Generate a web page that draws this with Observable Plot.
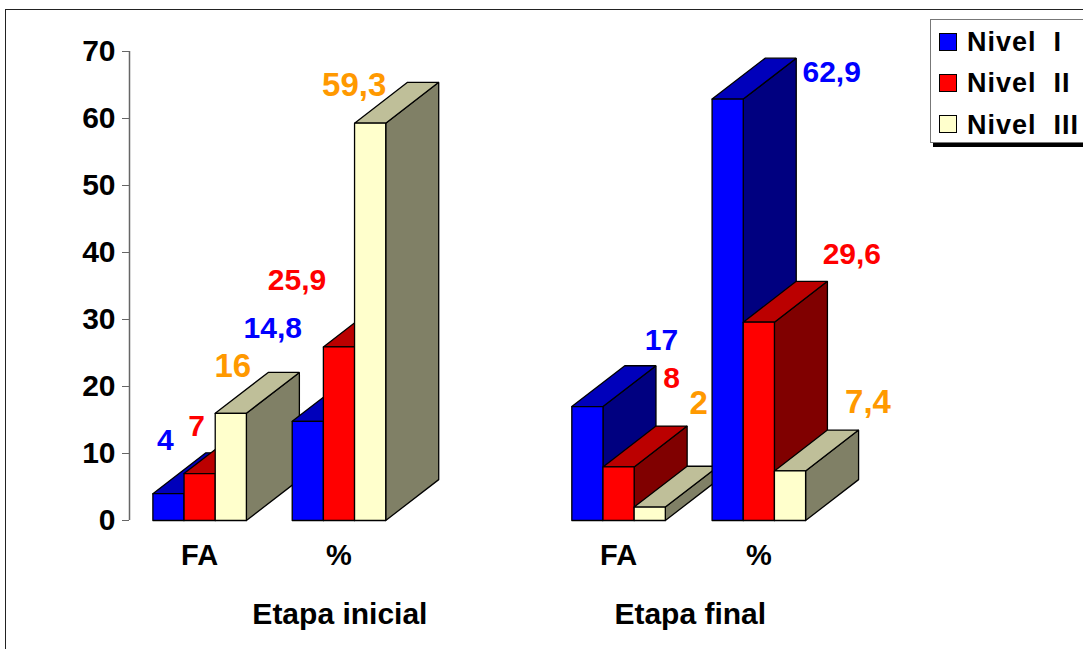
<!DOCTYPE html>
<html>
<head>
<meta charset="utf-8">
<script src="https://cdn.jsdelivr.net/npm/d3@7"></script>
<script src="https://cdn.jsdelivr.net/npm/@observablehq/plot@0.6"></script>
<style>
  html, body { margin: 0; padding: 0; background: #fff; overflow: hidden; }
  #page { position: relative; width: 1083px; height: 649px; overflow: hidden; font-family: "Liberation Sans", Arial, sans-serif; font-weight: 700; }
  #page svg { position: absolute; left: 0; top: 0; }
  #frame { position: absolute; left: 5px; top: 9px; width: 1200px; height: 800px; border: 1px solid #222; }
  #shadow { position: absolute; left: 933px; top: 143px; width: 200px; height: 4px; background: #000; }
  #legend { position: absolute; left: 930px; top: 19px; width: 200px; height: 122px; background: #fff; border: 1px solid #777; }
  .entry { position: absolute; left: 36px; font-size: 27px; line-height: 30px; letter-spacing: 1px; white-space: pre; color: #000; }
  .swatch { position: absolute; left: 8px; width: 16px; height: 16px; border: 1px solid #000; }
</style>
</head>
<body>
<div id="page">
  <div id="frame"></div>
  <div id="chart"></div>
  <div id="shadow"></div>
  <div id="legend"></div>
</div>
<script>
// Achievement levels over two stages, as counts (FA) and percentages
const stages = ["Etapa inicial", "Etapa final"];
const measures = ["FA", "%", "FA", "%"];
const levels = ["Nivel  I", "Nivel  II", "Nivel  III"];
const nivelI = [4, 14.8, 17, 62.9];
const nivelII = [7, 25.9, 8, 29.6];
const nivelIII = [16, 59.3, 2, 7.4];
const seriesValues = [nivelI, nivelII, nivelIII];

// Shades of each level: front, top and side faces, plus its label colour
const frontColors = ["#0000ff", "#ff0000", "#ffffcc"];
const topColors = ["#0000bb", "#bb0000", "#bfbf99"];
const sideColors = ["#000080", "#800000", "#808066"];
const labelColors = ["#0000ff", "#ff0000", "#ff9900"];

// Cluster placement along x, in bar widths, and the extruded depth of the bars
const clusterStart = [0, 4.47, 13.44, 17.94];
const stageCenter = [6, 17.24];
const depthX = 1.7;
const depthY = 6.1;

// Hand placed value labels, as pixel offsets from the top centre of each bar
const labelDx = [[-3, -35, 74, 104], [-3, -42, 53, 93], [2, -16, 49, 78]];
const labelDy = [[-53, -93, -66, -27], [-47, -67, -89, -68], [-47, -38, -104, -68]];
const labelSize = [30, 30, 33];

const bars = [];
clusterStart.forEach((start, c) => {
  seriesValues.forEach((values, s) => {
    bars.push({c, s, x0: start + s, x1: start + s + 1, v: values[c]});
  });
});

// Faces are painted back to front, left to right, so nearer bars hide farther ones
const faces = [];
bars.forEach((b, i) => {
  const {x0, x1, v, s} = b;
  const add = (name, fill, pts) => pts.concat([pts[0]]).forEach(([x, y]) => faces.push({id: `${i}-${name}`, fill, x, y}));
  add("side", sideColors[s], [[x1, 0], [x1 + depthX, depthY], [x1 + depthX, v + depthY], [x1, v]]);
  add("top", topColors[s], [[x0, v], [x0 + depthX, v + depthY], [x1 + depthX, v + depthY], [x1, v]]);
  add("front", frontColors[s], [[x0, 0], [x0, v], [x1, v], [x1, 0]]);
});

const fmt = v => String(v).replace(".", ",");
const font = {fontFamily: "Liberation Sans, Arial, sans-serif", fontWeight: 700};

const chart = Plot.plot({
  width: 1083,
  height: 649,
  marginLeft: 129,
  style: {background: "transparent", overflow: "visible"},
  x: {domain: [-0.75, 30], range: [129, 1087.5], axis: null},
  y: {domain: [0, 70], range: [520, 51], axis: null},
  color: {type: "identity"},
  marks: [
    Plot.ruleX([-0.75], {y1: 0, y2: 70, stroke: "#666", strokeWidth: 1.5}),
    Plot.axisY({
      ticks: d3.range(0, 71, 10),
      tickSize: 7,
      tickPadding: 7,
      stroke: "#666",
      fill: "#000",
      fontSize: 30,
      label: null,
      ...font,
      tickFormat: d => d
    }),
    Plot.line(faces, {x: "x", y: "y", z: "id", fill: "fill", stroke: "#000", strokeWidth: 1.3, strokeLinejoin: "miter"}),
    ...bars.map(b => Plot.text([b], {
      x: d => d.x0 + 0.5,
      y: "v",
      text: d => fmt(d.v),
      fill: labelColors[b.s],
      dx: labelDx[b.s][b.c],
      dy: labelDy[b.s][b.c],
      fontSize: labelSize[b.s],
      ...font
    })),
    Plot.text(measures.map((m, c) => ({m, x: clusterStart[c] + 1.5})), {
      x: "x",
      y: () => 0,
      text: "m",
      dy: 35,
      fill: "#000",
      fontSize: 29,
      ...font
    }),
    Plot.text(stages.map((t, i) => ({t, x: stageCenter[i]})), {
      x: "x",
      y: () => 0,
      text: "t",
      dy: 94,
      fill: "#000",
      fontSize: 30,
      ...font
    })
  ]
});
document.getElementById("chart").append(chart);

// Legend sits in its own boxed panel, clipped by the page edge
const legend = document.getElementById("legend");
levels.forEach((name, i) => {
  const sw = document.createElement("div");
  sw.className = "swatch";
  sw.style.top = (13 + i * 41) + "px";
  sw.style.background = frontColors[i];
  legend.append(sw);
  const t = document.createElement("div");
  t.className = "entry";
  t.style.top = (7 + i * 41.4) + "px";
  t.textContent = name;
  legend.append(t);
});
</script>
</body>
</html>
